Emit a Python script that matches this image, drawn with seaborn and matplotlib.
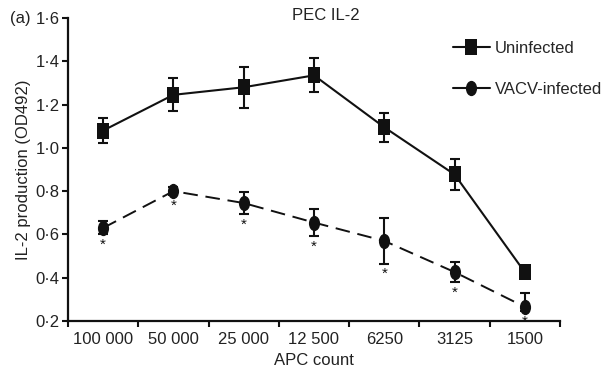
import numpy as np
import pandas as pd
import matplotlib
matplotlib.use("Agg")
import matplotlib.pyplot as plt
from matplotlib.path import Path
from matplotlib.transforms import Affine2D
from matplotlib.ticker import FuncFormatter, FixedLocator
from matplotlib.lines import Line2D
import seaborn as sns

# APC counts (categories along x)
apc_counts = ["100 000", "50 000", "25 000", "12 500", "6250", "3125", "1500"]

# Mean IL-2 production (OD492) with lower / upper error
uninfected = [1.08, 1.245, 1.28, 1.335, 1.095, 0.877, 0.425]
uninfected_err_lo = [0.058, 0.076, 0.095, 0.078, 0.066, 0.072, 0.0]
uninfected_err_hi = [0.058, 0.076, 0.095, 0.078, 0.066, 0.072, 0.0]
vacv = [0.63, 0.80, 0.745, 0.655, 0.57, 0.426, 0.265]
vacv_err_lo = [0.03, 0.02, 0.05, 0.062, 0.105, 0.046, 0.02]
vacv_err_hi = [0.03, 0.02, 0.05, 0.062, 0.105, 0.046, 0.065]

series_names = ["Uninfected", "VACV-infected"]

sns.set_theme(style="ticks")
plt.rcParams["font.family"] = ["Liberation Sans", "DejaVu Sans"]
plt.rcParams["font.size"] = 12

n = len(apc_counts)
df = pd.DataFrame({
    "APC": apc_counts * 2,
    "OD": uninfected + vacv,
    "lo": uninfected_err_lo + vacv_err_lo,
    "hi": uninfected_err_hi + vacv_err_hi,
    "group": [series_names[0]] * n + [series_names[1]] * n,
})

# Slightly tall square and ellipse markers
square = Path.unit_rectangle().transformed(Affine2D().translate(-0.5, -0.5).scale(0.8, 1.0))
ellipse = Path.unit_circle().transformed(Affine2D().scale(0.73, 1.0))

fig = plt.figure(figsize=(6.08, 3.76), dpi=100)
ax = fig.add_axes([68 / 608, 1 - 321 / 376, (560 - 68) / 608, (321 - 18) / 376])

col = "#111111"
txt = "#222222"
sub_u = df[df.group == series_names[0]]
sub_v = df[df.group == series_names[1]]

sns.lineplot(data=sub_u, x="APC", y="OD", ax=ax, color=col, lw=1.5,
             marker=square, markersize=11, markeredgewidth=0, sort=False,
             errorbar=None)
sns.lineplot(data=sub_v, x="APC", y="OD", ax=ax, color=col, lw=1.4,
             marker=ellipse, markersize=11, markeredgewidth=0, sort=False,
             errorbar=None, linestyle=(0, (7.5, 4)))

for sub in (sub_u, sub_v):
    ax.errorbar(sub["APC"], sub["OD"], yerr=[sub["lo"], sub["hi"]], fmt="none",
                ecolor=col, elinewidth=1.5, capsize=3.5, capthick=1.5, zorder=1)

# Significance marks below infected points
for cat, v, e in zip(apc_counts, vacv, vacv_err_lo):
    ax.annotate("*", xy=(cat, v - e), xytext=(0, -7.5), textcoords="offset points",
                ha="center", va="center", fontsize=11, color=col, annotation_clip=False)

ax.set_xlim(-0.5, n - 0.5)
ax.set_ylim(0.2, 1.6)
ax.set_yticks(np.arange(0.2, 1.61, 0.2))
ax.yaxis.set_major_formatter(FuncFormatter(lambda v, p: f"{v:.1f}".replace(".", "·")))

# Ticks sit between categories; labels centred on categories
ax.xaxis.set_major_locator(FixedLocator(np.arange(n)))
ax.set_xticks(np.arange(-0.5, n), minor=True)
ax.tick_params(axis="x", which="major", length=0, pad=8, labelsize=12, labelcolor=txt)
ax.tick_params(axis="x", which="minor", length=4, width=1.5, color=col)
ax.tick_params(axis="y", length=4, width=1.5, color=col, labelsize=12, labelcolor=txt, pad=2)

sns.despine(ax=ax)
for s in ("left", "bottom"):
    ax.spines[s].set_linewidth(1.6)
    ax.spines[s].set_color(col)

ax.set_xlabel("APC count", fontsize=12, color=txt, labelpad=4)
ax.set_ylabel("IL-2 production (OD492)", fontsize=12, color=txt, labelpad=3)

fig.text(326 / 608, 1 - 15 / 376, "PEC IL-2", ha="center", va="center", fontsize=12, color=txt)
fig.text(10 / 608, 1 - 19 / 376, "(a)", ha="left", va="center", fontsize=12, color=txt)

handles = [
    Line2D([], [], color=col, lw=1.5, marker=square, markersize=11, markeredgewidth=0),
    Line2D([], [], color=col, lw=1.5, marker=ellipse, markersize=11, markeredgewidth=0),
]
ax.legend(handles, series_names, loc="upper left", bbox_to_anchor=(0.7825, 0.925),
          frameon=False, borderpad=0, borderaxespad=0, handlelength=2.2,
          handletextpad=0.3, labelspacing=1.55, fontsize=12)

fig.savefig("out.png", dpi=100)
